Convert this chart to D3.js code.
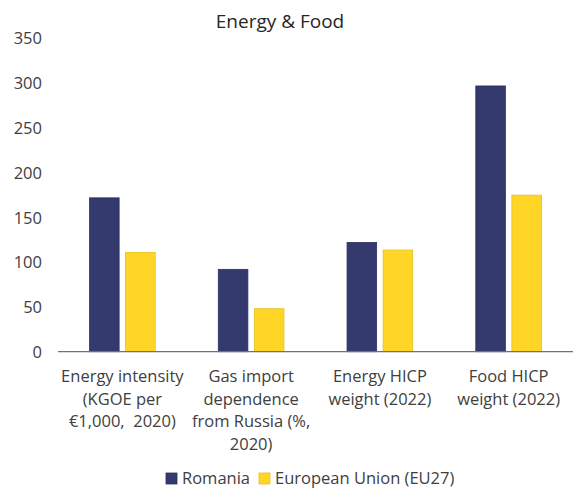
<!DOCTYPE html>
<html>
<head>
<meta charset="utf-8">
<script src="https://cdn.jsdelivr.net/npm/d3@7"></script>
<style>
  html, body { margin: 0; padding: 0; background: #fff; }
  svg { display: block; }
  text { font-family: "Open Sans", Lato, sans-serif; fill: #404040; }
</style>
</head>
<body>
<svg id="chart" width="581" height="494"></svg>
<script>
const categories = [
  ["Energy intensity", "(KGOE per", "€1,000,  2020)"],
  ["Gas import", "dependence", "from Russia (%,", "2020)"],
  ["Energy HICP", "weight (2022)"],
  ["Food HICP", "weight (2022)"]
];
const seriesNames = ["Romania", "European Union (EU27)"];
const romania = [171.5, 91.8, 121.8, 296.2];
const eu27 = [110.7, 47.9, 113.3, 174.5];
const yTicks = [0, 50, 100, 150, 200, 250, 300, 350];
const colors = ["#343A6E", "#FFD625"];
const strokes = ["#2B3160", "#E6BF1E"];

const FONT = "'Open Sans', Lato, sans-serif";
const svg = d3.select("#chart");
const margin = { left: 58, right: 8, top: 37.7, bottom: 142.3 };
const W = 581, H = 494;

const x0 = d3.scaleBand()
  .domain(d3.range(categories.length))
  .range([margin.left, W - margin.right])
  .paddingInner(0.49).paddingOuter(0.245);
const x1 = d3.scaleBand()
  .domain([0, 1])
  .range([0, x0.bandwidth()])
  .paddingInner(0.18);
const y = d3.scaleLinear().domain([0, 350]).range([H - margin.bottom, margin.top]);

// title
svg.append("text")
  .attr("x", 280).attr("y", 27.5)
  .attr("text-anchor", "middle")
  .style("font-size", "19px")
  .style("fill", "#262626")
  .text("Energy & Food");

// y axis labels (no axis line)
const yAxis = d3.axisLeft(y).tickValues(yTicks).tickSize(0);
const yg = svg.append("g").attr("transform", `translate(${margin.left},0)`).call(yAxis);
yg.select(".domain").remove();
yg.selectAll("text")
  .attr("x", -16)
  .attr("dy", "0.36em")
  .style("font-size", "16.5px")
  .style("font-family", FONT)
  .style("fill", "#404040")
  .attr("text-anchor", "end");

// bars
const data = categories.map((c, i) => [romania[i], eu27[i]]);
const groups = svg.append("g").selectAll("g").data(data).join("g")
  .attr("transform", (d, i) => `translate(${x0(i)},0)`);
groups.selectAll("rect").data(d => d.map((v, k) => ({ v, k }))).join("rect")
  .attr("x", d => x1(d.k))
  .attr("y", d => y(d.v))
  .attr("width", x1.bandwidth())
  .attr("height", d => y(0) - y(d.v))
  .attr("fill", d => colors[d.k])
  .attr("stroke", d => strokes[d.k])
  .attr("stroke-width", 0.8);

// baseline
svg.append("line")
  .attr("x1", margin.left).attr("x2", W - margin.right)
  .attr("y1", y(0)).attr("y2", y(0))
  .attr("stroke", "#6B7090").attr("stroke-width", 1.3);

// category labels
const xl = svg.append("g");
categories.forEach((lines, i) => {
  const cx = x0(i) + x0.bandwidth() / 2;
  const t = xl.append("text")
    .attr("text-anchor", "middle")
    .style("font-size", "16.5px")
    .style("fill", "#404040")
    .style("white-space", "pre");
  lines.forEach((ln, j) => {
    t.append("tspan").attr("x", cx).attr("y", 382 + j * 22.5).text(ln);
  });
});

// legend
const legend = svg.append("g");
const legendItems = [{ x: 166, name: seriesNames[0], k: 0 }, { x: 259, name: seriesNames[1], k: 1 }];
legendItems.forEach(it => {
  legend.append("rect")
    .attr("x", it.x).attr("y", 473)
    .attr("width", 11).attr("height", 11)
    .attr("fill", colors[it.k])
    .attr("stroke", strokes[it.k]).attr("stroke-width", 0.8);
  legend.append("text")
    .attr("x", it.x + 16).attr("y", 484)
    .style("font-size", "16.5px")
    .style("fill", "#404040")
    .text(it.name);
});
</script>
</body>
</html>
